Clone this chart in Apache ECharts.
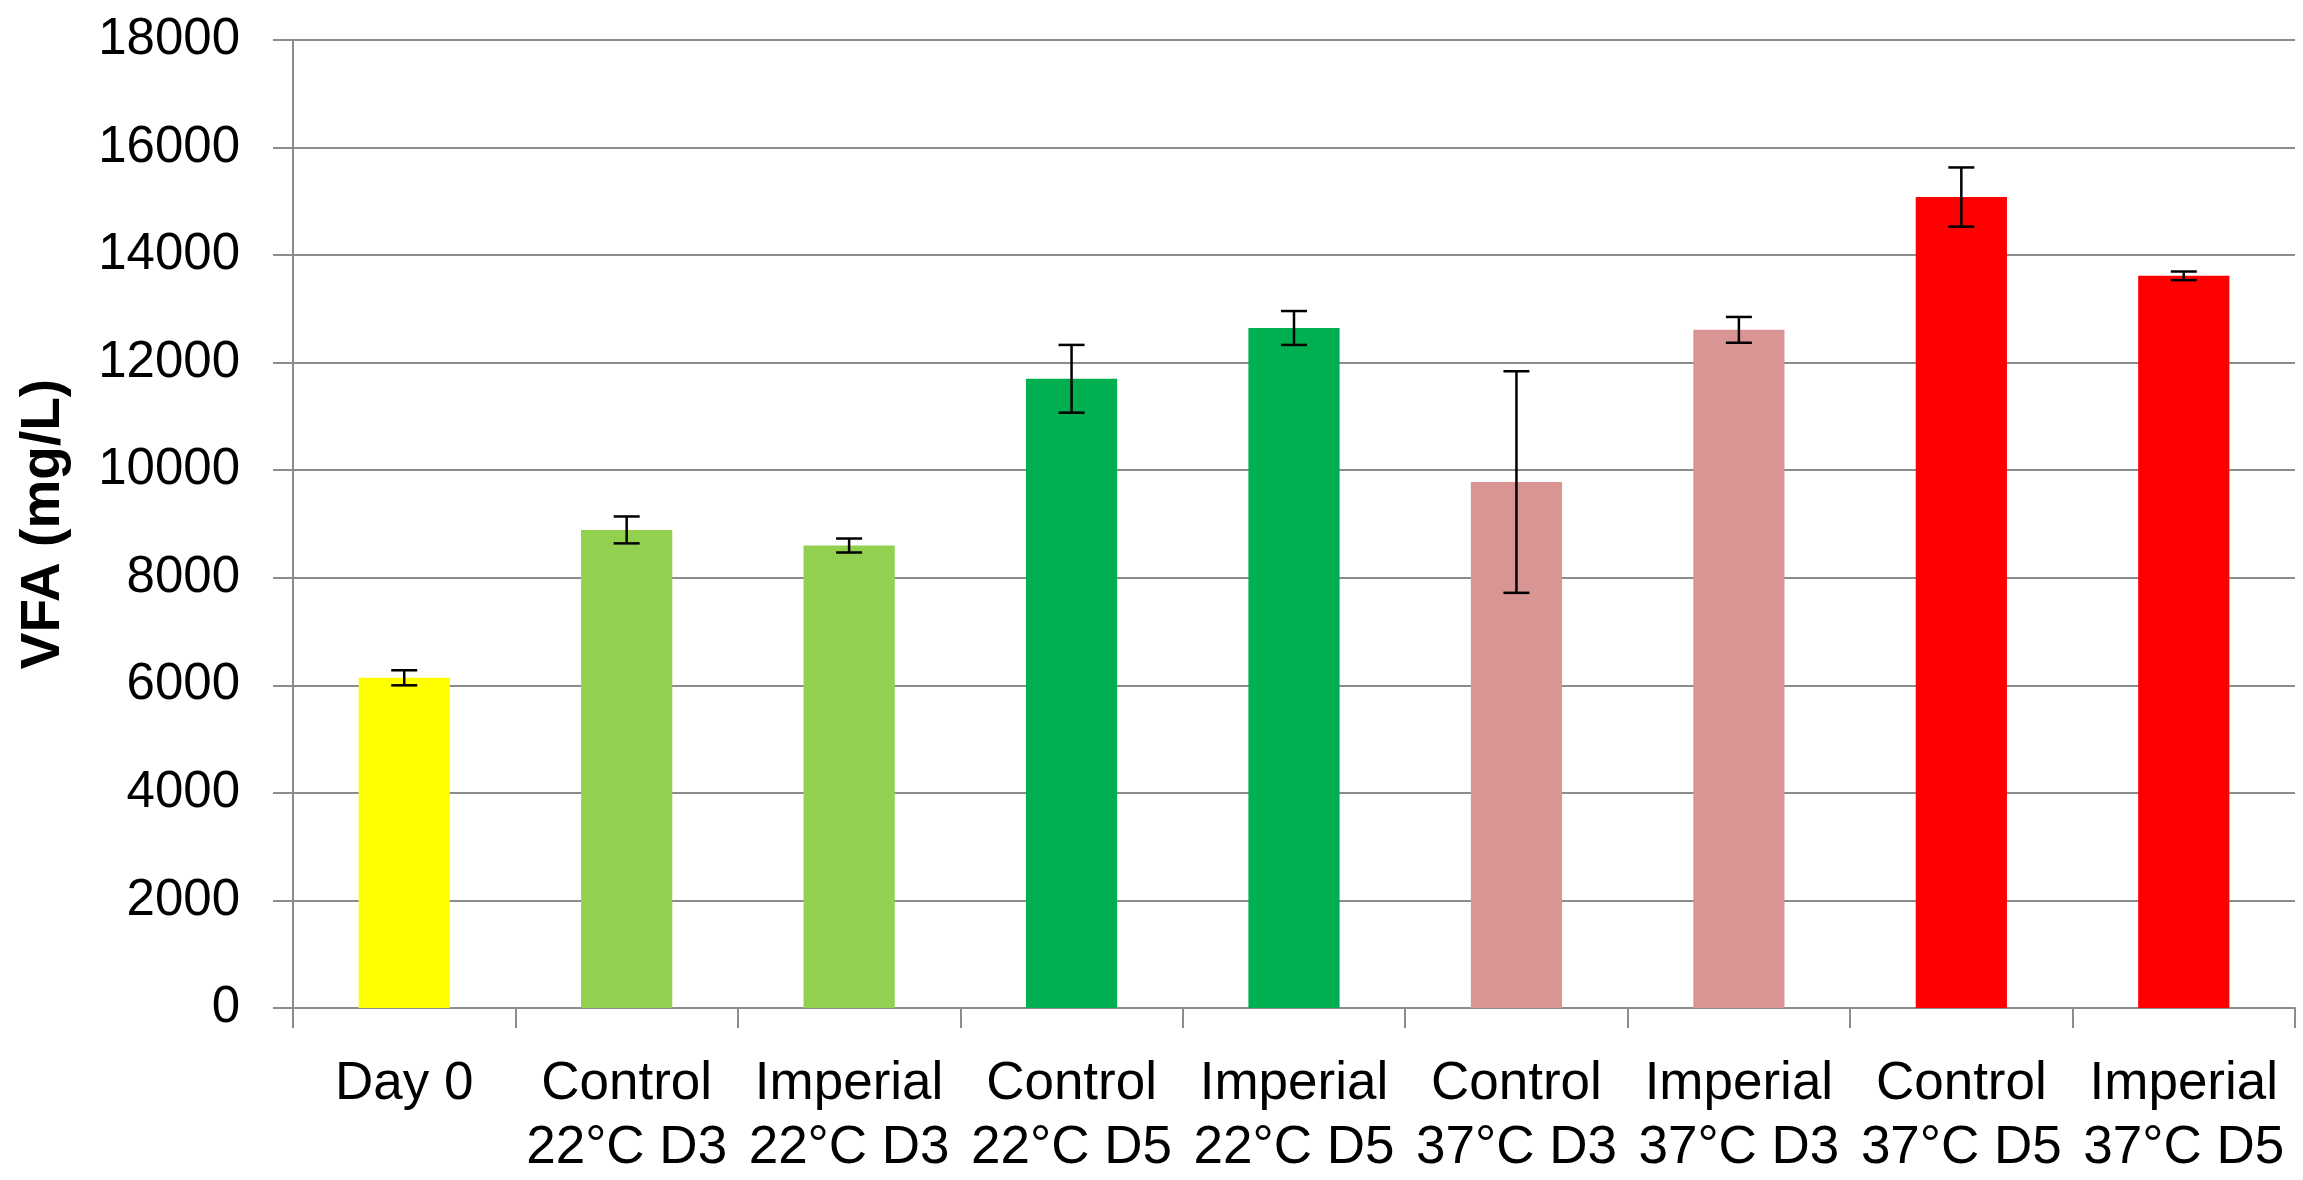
<!DOCTYPE html>
<html>
<head>
<meta charset="utf-8">
<script src="https://cdn.jsdelivr.net/npm/echarts@6/dist/echarts.min.js"></script>
<style>
html,body{margin:0;padding:0;background:#fff;}
#chart{width:2303px;height:1180px;}
</style>
</head>
<body>
<div id="chart"></div>
<script>
const categories = ['Day 0\n ', 'Control\n22°C D3', 'Imperial\n22°C D3', 'Control\n22°C D5', 'Imperial\n22°C D5', 'Control\n37°C D3', 'Imperial\n37°C D3', 'Control\n37°C D5', 'Imperial\n37°C D5'];
const values = [6140, 8890, 8600, 11700, 12645, 9780, 12610, 15080, 13615];
const errors = [140, 250, 130, 630, 315, 2060, 240, 550, 80];
const barColors = ['#FFFF00', '#92D050', '#92D050', '#00B050', '#00B050', '#D99594', '#D99594', '#FF0000', '#FF0000'];
const yTicks = [0, 2000, 4000, 6000, 8000, 10000, 12000, 14000, 16000, 18000];

const chart = echarts.init(document.getElementById('chart'));
const font = 'Liberation Sans, Arial, sans-serif';
chart.setOption({
  animation: false,
  backgroundColor: '#ffffff',
  grid: {left: 293, right: 8, top: 40, bottom: 156, containLabel: false},
  xAxis: {
    type: 'category',
    data: categories,
    axisLine: {show: true, lineStyle: {color: '#8c8c8c', width: 2}},
    axisTick: {show: true, length: 20, lineStyle: {color: '#8c8c8c', width: 2}},
    axisLabel: {
      interval: 0, margin: 44, color: '#000', fontFamily: font, fontSize: 53, lineHeight: 64
    }
  },
  yAxis: {
    type: 'value',
    min: yTicks[0], max: yTicks[yTicks.length - 1], interval: 2000,
    name: 'VFA (mg/L)',
    nameLocation: 'middle',
    nameGap: 222,
    nameTextStyle: {fontFamily: font, fontSize: 55, fontWeight: 'bold', color: '#000'},
    axisLine: {show: true, lineStyle: {color: '#8c8c8c', width: 2}},
    axisTick: {show: true, length: 20, lineStyle: {color: '#8c8c8c', width: 2}},
    axisLabel: {margin: 53, color: '#000', fontFamily: font, fontSize: 51, formatter: v => String(v)},
    splitLine: {show: true, lineStyle: {color: '#8c8c8c', width: 2}}
  },
  series: [
    {
      type: 'bar',
      barWidth: '41%',
      data: values.map((v, i) => ({value: v, itemStyle: {color: barColors[i]}})),
      z: 2
    },
    {
      type: 'custom',
      z: 5,
      data: values.map((v, i) => [i, v - errors[i], v + errors[i]]),
      renderItem: function (params, api) {
        const lo = api.coord([api.value(0), api.value(1)]);
        const hi = api.coord([api.value(0), api.value(2)]);
        const hw = 13;
        const style = {stroke: '#000', lineWidth: 2.5};
        return {
          type: 'group',
          children: [
            {type: 'line', shape: {x1: hi[0], y1: hi[1], x2: lo[0], y2: lo[1]}, style: style},
            {type: 'line', shape: {x1: hi[0] - hw, y1: hi[1], x2: hi[0] + hw, y2: hi[1]}, style: style},
            {type: 'line', shape: {x1: lo[0] - hw, y1: lo[1], x2: lo[0] + hw, y2: lo[1]}, style: style}
          ]
        };
      }
    }
  ]
});
</script>
</body>
</html>
